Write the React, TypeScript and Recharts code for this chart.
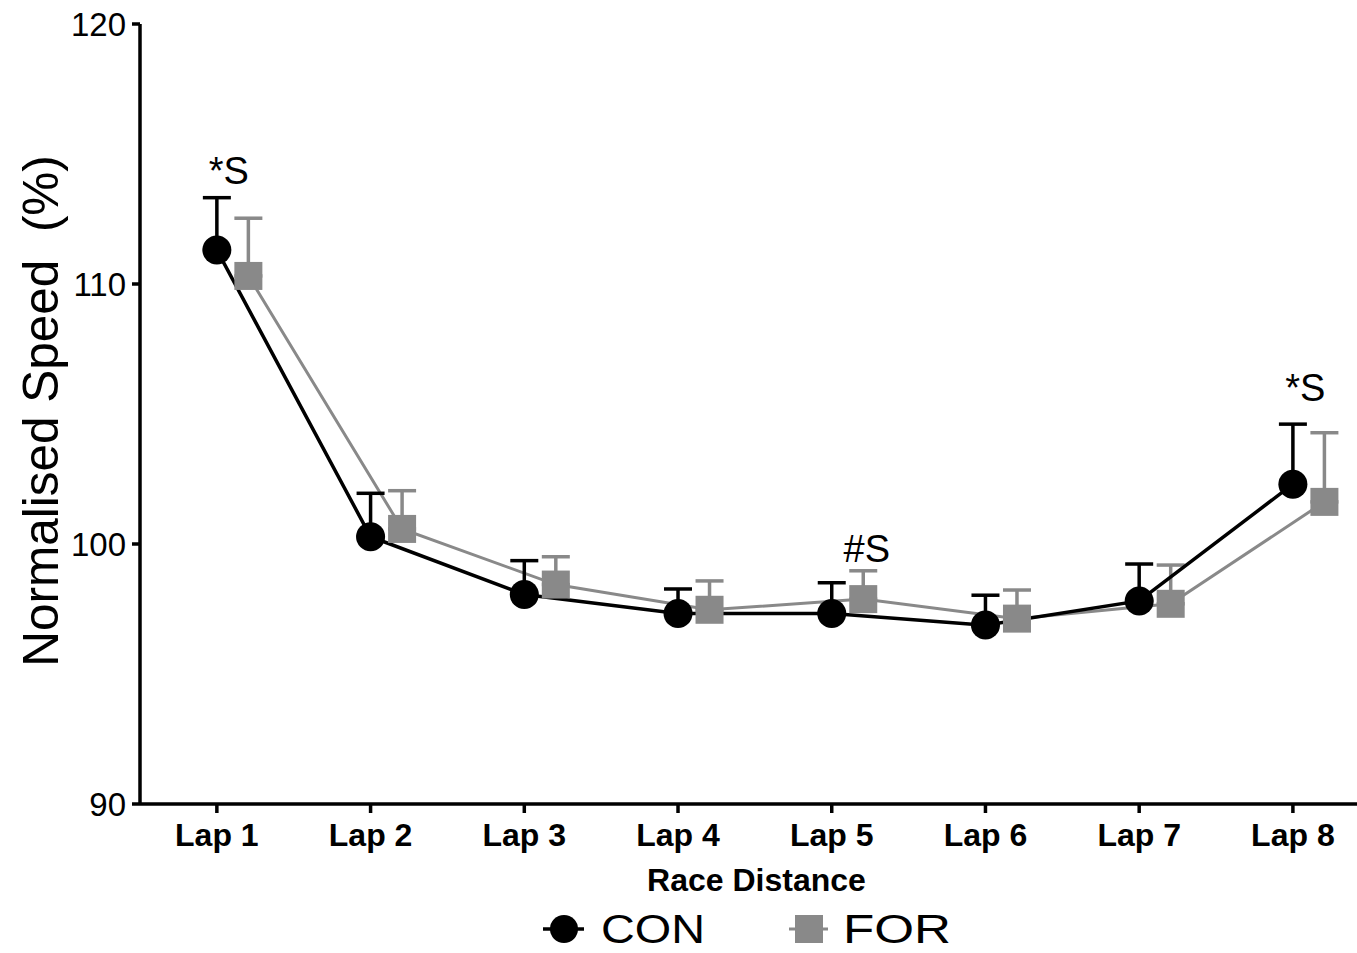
import React from 'react';
import {
  ComposedChart,
  Line,
  XAxis,
  YAxis,
  ErrorBar,
  ReferenceDot,
} from 'recharts';

// ---- data ----
const lapLabels = ['Lap 1', 'Lap 2', 'Lap 3', 'Lap 4', 'Lap 5', 'Lap 6', 'Lap 7', 'Lap 8'];
const lapIndex = [1, 2, 3, 4, 5, 6, 7, 8];
const conMean = [111.31, 100.28, 98.06, 97.33, 97.33, 96.88, 97.81, 102.3];
const conSD = [2.01, 1.67, 1.3, 0.94, 1.18, 1.15, 1.42, 2.31];
const forMean = [110.31, 100.58, 98.44, 97.47, 97.88, 97.13, 97.7, 101.62];
const forSD = [2.22, 1.47, 1.07, 1.11, 1.09, 1.1, 1.49, 2.66];
const yTicks = [90, 100, 110, 120];
const annotationText = ['*S', '#S', '*S'];
const annotationLap = [1.078, 5.228, 8.08];
const annotationValue = [114.35, 99.82, 106.0];

const FONT = '"Liberation Sans", Arial, Helvetica, sans-serif';
const GRAY = '#898989';
const DODGE = 0.205;

const conData = lapIndex.map((x, i) => ({ x, v: conMean[i], err: [0, conSD[i]] }));
const forData = lapIndex.map((x, i) => ({ x: x + DODGE, v: forMean[i], err: [0, forSD[i]] }));

const CircleDot = (props: any) => {
  const { cx, cy, index } = props;
  if (cx == null || cy == null) return <g key={`c${index}`} />;
  return <circle key={`c${index}`} cx={cx} cy={cy} r={14.5} fill="#000" />;
};

const SquareDot = (props: any) => {
  const { cx, cy, index } = props;
  if (cx == null || cy == null) return <g key={`s${index}`} />;
  return <rect key={`s${index}`} x={cx - 14} y={cy - 14} width={28} height={28} fill={GRAY} />;
};

const YLabel = (props: any) => {
  const vb = props.viewBox || { x: 0, y: 24, width: 140, height: 780 };
  const cx = vb.x + 40;
  const cy = vb.y + vb.height / 2 - 3;
  return (
    <text
      x={cx}
      y={cy}
      transform={`rotate(-90 ${cx} ${cy})`}
      textAnchor="middle"
      dominantBaseline="central"
      fontSize={49.5}
      fontFamily={FONT}
      fill="#000"
      xmlSpace="preserve"
      style={{ whiteSpace: 'pre' }}
    >
      Normalised Speed  (%)
    </text>
  );
};

export default function App() {
  return (
    <div style={{ position: 'absolute', left: 0, top: 0, width: 1357, height: 953, background: '#fff' }}>
      <ComposedChart
        width={1357}
        height={953}
        margin={{ top: 24, right: 0, bottom: 0, left: 0 }}
        style={{ fontFamily: FONT }}
      >
        <XAxis
          dataKey="x"
          type="number"
          domain={[0.5, 8.417]}
          allowDataOverflow
          ticks={lapIndex}
          interval={0}
          tickFormatter={(v: number) => lapLabels[Math.round(v) - 1] ?? ''}
          height={149}
          stroke="#000"
          strokeWidth={3.5}
          tickSize={9}
          tickMargin={10}
          tick={{ fontSize: 32, fontWeight: 'bold', fill: '#000', fontFamily: FONT }}
          label={{
            value: 'Race Distance',
            position: 'insideTop',
            offset: 64,
            dx: 8,
            fontSize: 32,
            fontWeight: 'bold',
            fill: '#000',
            fontFamily: FONT,
          }}
        />
        <YAxis
          type="number"
          domain={[90, 120]}
          ticks={yTicks}
          interval={0}
          width={140}
          stroke="#000"
          strokeWidth={3.5}
          tickSize={8}
          tickMargin={6}
          tick={{ fontSize: 33, fill: '#000', fontFamily: FONT }}
          label={<YLabel />}
        />
        <Line
          data={forData}
          dataKey="v"
          type="linear"
          stroke={GRAY}
          strokeWidth={3}
          dot={<SquareDot />}
          activeDot={false}
          isAnimationActive={false}
        >
          <ErrorBar dataKey="err" direction="y" width={14} stroke={GRAY} strokeWidth={3.5} isAnimationActive={false} />
        </Line>
        <Line
          data={conData}
          dataKey="v"
          type="linear"
          stroke="#000"
          strokeWidth={3.5}
          dot={<CircleDot />}
          activeDot={false}
          isAnimationActive={false}
        >
          <ErrorBar dataKey="err" direction="y" width={14} stroke="#000" strokeWidth={3.5} isAnimationActive={false} />
        </Line>
        {annotationText.map((t, i) => (
          <ReferenceDot
            key={`a${i}`}
            x={annotationLap[i]}
            y={annotationValue[i]}
            r={0}
            fill="none"
            stroke="none"
            label={{ value: t, position: 'center', fontSize: 38, fill: '#000', fontFamily: FONT }}
          />
        ))}
      </ComposedChart>
      <svg
        width={1357}
        height={953}
        style={{ position: 'absolute', left: 0, top: 0, pointerEvents: 'none' }}
      >
        <line x1={543} y1={929} x2={584} y2={929} stroke="#000" strokeWidth={3.5} />
        <circle cx={564} cy={929} r={14} fill="#000" />
        <text x={601} y={929 + 0.358 * 40} fontSize={40} fontFamily={FONT} fill="#000" textLength={104} lengthAdjust="spacingAndGlyphs">
          CON
        </text>
        <line x1={789} y1={929} x2={828} y2={929} stroke={GRAY} strokeWidth={3} />
        <rect x={795} y={915} width={28} height={28} fill={GRAY} />
        <text x={843} y={929 + 0.358 * 40} fontSize={40} fontFamily={FONT} fill="#000" textLength={108} lengthAdjust="spacingAndGlyphs">
          FOR
        </text>
      </svg>
    </div>
  );
}
